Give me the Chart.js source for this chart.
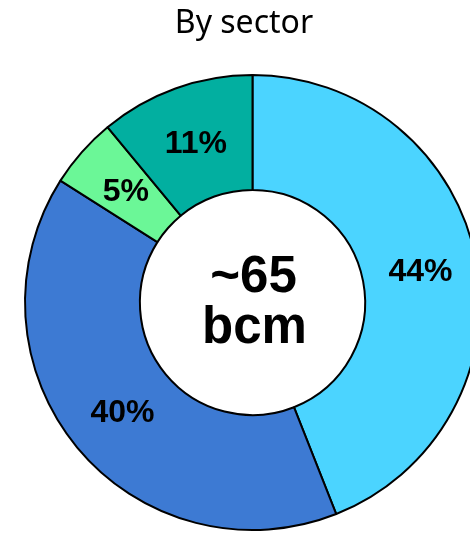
<!DOCTYPE html>
<html>
<head>
<meta charset="utf-8">
<script src="https://cdn.jsdelivr.net/npm/chart.js@4/dist/chart.umd.min.js"></script>
<style>
  html, body { margin: 0; padding: 0; background: #fff; overflow: hidden; width: 470px; height: 534px; }
  #wrap { position: absolute; left: 0; top: 0; width: 506px; height: 534px; }
</style>
</head>
<body>
<div id="wrap"><canvas id="c" width="506" height="534"></canvas></div>
<script>
const titleText = "By sector";
const centerLines = ["~65", "bcm"];
const categories = ["Sector 1", "Sector 2", "Sector 3", "Sector 4"];
const shares = [44, 40, 5, 11];
const shareLabels = ["44%", "40%", "5%", "11%"];
const sliceColors = ["#4BD4FF", "#3D7AD3", "#6BF797", "#02AFA0"];

const textPlugin = {
  id: "texts",
  afterDatasetsDraw(chart) {
    const ctx = chart.ctx;
    const meta = chart.getDatasetMeta(0);
    ctx.save();
    ctx.fillStyle = "#000";
    ctx.textAlign = "center";
    ctx.textBaseline = "middle";
    ctx.font = "bold 32px 'Liberation Sans', Arial, sans-serif";
    meta.data.forEach((arc, i) => {
      const p = arc.tooltipPosition();
      ctx.fillText(shareLabels[i], p.x + 1, p.y + 2);
    });
    const a0 = meta.data[0];
    const cx = a0.x, cy = a0.y;
    ctx.textBaseline = "alphabetic";
    ctx.font = "bold 51px 'Liberation Sans', Arial, sans-serif";
    ctx.fillText(centerLines[0], cx + 1, cy - 10.5);
    ctx.fillText(centerLines[1], cx + 2, cy + 40.5);
    ctx.font = "32px 'Noto Sans', 'Open Sans', sans-serif";
    ctx.fillText(titleText, 244, 33);
    ctx.restore();
  }
};

new Chart(document.getElementById("c"), {
  type: "doughnut",
  data: {
    labels: categories,
    datasets: [{
      data: shares,
      backgroundColor: sliceColors,
      borderColor: "#000",
      borderWidth: 2
    }]
  },
  options: {
    responsive: false,
    animation: false,
    cutout: "49.5%",
    layout: { padding: { top: 74, bottom: 3, left: 24, right: 25 } },
    plugins: { legend: { display: false }, tooltip: { enabled: false }, title: { display: false } }
  },
  plugins: [textPlugin]
});
</script>
</body>
</html>
